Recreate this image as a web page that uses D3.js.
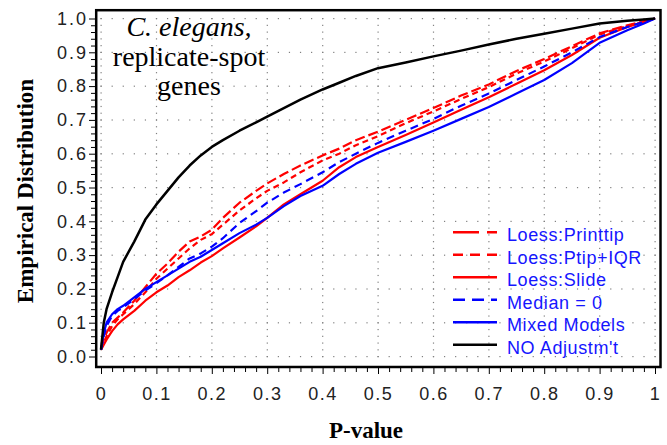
<!DOCTYPE html>
<html><head><meta charset="utf-8">
<script src="https://cdn.jsdelivr.net/npm/d3@7"></script>
<style>body{margin:0;background:#fff}</style>
</head><body>
<svg id="c" width="667" height="445"></svg>
<script>
// ---- data ----
const pValues    = [0, 0.005, 0.01, 0.02, 0.03, 0.04, 0.06, 0.08, 0.1, 0.12, 0.14, 0.16, 0.18, 0.2, 0.22, 0.25, 0.28, 0.3, 0.33, 0.36, 0.4, 0.43, 0.46, 0.5, 0.55, 0.6, 0.65, 0.7, 0.75, 0.8, 0.85, 0.9, 0.95, 0.98, 1];
const loessPrinttip = [0.025, 0.05, 0.07, 0.10, 0.115, 0.13, 0.165, 0.205, 0.245, 0.275, 0.31, 0.34, 0.355, 0.375, 0.41, 0.455, 0.49, 0.512, 0.54, 0.565, 0.595, 0.615, 0.64, 0.665, 0.70, 0.735, 0.772, 0.805, 0.845, 0.88, 0.918, 0.956, 0.98, 0.992, 1];
const loessPtipIQR  = [0.02, 0.04, 0.06, 0.09, 0.11, 0.125, 0.155, 0.19, 0.23, 0.26, 0.29, 0.32, 0.345, 0.362, 0.39, 0.432, 0.468, 0.49, 0.515, 0.545, 0.58, 0.60, 0.625, 0.652, 0.69, 0.725, 0.762, 0.797, 0.837, 0.873, 0.912, 0.953, 0.978, 0.99, 1];
const loessSlide    = [0.02, 0.035, 0.05, 0.075, 0.095, 0.11, 0.135, 0.165, 0.19, 0.21, 0.235, 0.255, 0.278, 0.297, 0.32, 0.352, 0.385, 0.41, 0.45, 0.48, 0.52, 0.56, 0.59, 0.62, 0.655, 0.692, 0.73, 0.767, 0.807, 0.847, 0.892, 0.943, 0.975, 0.99, 1];
const medianZero    = [0.02, 0.06, 0.09, 0.12, 0.135, 0.145, 0.17, 0.195, 0.217, 0.24, 0.265, 0.29, 0.305, 0.325, 0.35, 0.395, 0.43, 0.455, 0.485, 0.51, 0.545, 0.575, 0.60, 0.632, 0.668, 0.703, 0.742, 0.778, 0.818, 0.858, 0.90, 0.945, 0.975, 0.99, 1];
const mixedModels   = [0.02, 0.07, 0.10, 0.125, 0.14, 0.15, 0.175, 0.20, 0.22, 0.24, 0.26, 0.28, 0.295, 0.315, 0.335, 0.365, 0.39, 0.41, 0.445, 0.475, 0.505, 0.54, 0.57, 0.603, 0.635, 0.668, 0.703, 0.738, 0.778, 0.818, 0.868, 0.928, 0.965, 0.985, 1];
const noAdjustment  = [0.02, 0.10, 0.14, 0.19, 0.235, 0.28, 0.34, 0.405, 0.45, 0.49, 0.53, 0.565, 0.595, 0.62, 0.64, 0.668, 0.693, 0.71, 0.735, 0.76, 0.79, 0.81, 0.83, 0.853, 0.87, 0.888, 0.905, 0.923, 0.94, 0.955, 0.97, 0.985, 0.993, 0.997, 1];

const seriesNames = ["Loess:Printtip", "Loess:Ptip+IQR", "Loess:Slide", "Median = 0", "Mixed Models", "NO Adjustm't"];
const xTickValues = [0, 0.1, 0.2, 0.3, 0.4, 0.5, 0.6, 0.7, 0.8, 0.9, 1];
const xTickLabels = ["0", "0.1", "0.2", "0.3", "0.4", "0.5", "0.6", "0.7", "0.8", "0.9", "1"];
const yTickValues = [0, 0.1, 0.2, 0.3, 0.4, 0.5, 0.6, 0.7, 0.8, 0.9, 1];
const yTickLabels = ["0.0", "0.1", "0.2", "0.3", "0.4", "0.5", "0.6", "0.7", "0.8", "0.9", "1.0"];
const titleLines = ["C. elegans,", "replicate-spot", "genes"];
const xTitle = "P-value";
const yTitle = "Empirical Distribution";

// ---- styles ----
const seriesValues = [loessPrinttip, loessPtipIQR, loessSlide, medianZero, mixedModels, noAdjustment];
const seriesColor = ["#ff0000", "#ff0000", "#ff0000", "#0000ff", "#0000ff", "#000000"];
const plotDash = ["10,4", "6,4", null, "8,5", null, null];
const legendDash = ["26,8", "10,7", null, "12,7", null, null];

const svg = d3.select("#c");
const x = d3.scaleLinear().domain([0, 1]).range([101, 655]);
const y = d3.scaleLinear().domain([0, 1]).range([356.5, 18.5]);
const minor = d3.range(0, 51).map(i => i / 50);

// grid dots
const gGrid = svg.append("g").attr("fill", "#808080");
yTickValues.forEach(v => {
  gGrid.selectAll(null).data(minor).join("rect")
    .attr("x", d => x(d) - 0.5).attr("y", y(v) - 0.5).attr("width", 1.2).attr("height", 1.2);
});
xTickValues.forEach(v => {
  gGrid.selectAll(null).data(minor).join("rect")
    .attr("x", x(v) - 0.5).attr("y", d => y(d) - 0.5).attr("width", 1.2).attr("height", 1.2);
});

// curves
const line = d3.line().x((d, i) => x(pValues[i])).y(d => y(d));
seriesValues.forEach((vals, k) => {
  svg.append("path").datum(vals)
    .attr("d", line)
    .attr("fill", "none")
    .attr("stroke", seriesColor[k])
    .attr("stroke-width", k === 5 ? 2.5 : 2.2)
    .attr("stroke-dasharray", plotDash[k])
    .attr("stroke-linejoin", "round");
});

// frame
svg.append("rect").attr("x", 96.2).attr("y", 10.2).attr("width", 564.3).attr("height", 356.8)
  .attr("fill", "none").attr("stroke", "#000").attr("stroke-width", 2.5);

const tickFont = "'Liberation Sans', Arial, sans-serif";
// x axis
const minorX = minor.filter(d => Math.abs(d * 10 - Math.round(d * 10)) > 1e-6);
svg.append("g").attr("transform", "translate(0,368)")
  .call(d3.axisBottom(x).tickValues(minorX).tickSize(4).tickFormat(""))
  .call(g => g.select(".domain").remove());
svg.append("g").attr("transform", "translate(0,368)")
  .call(d3.axisBottom(x).tickValues(xTickValues).tickSize(6).tickPadding(13).tickFormat((d, i) => xTickLabels[i]))
  .call(g => g.select(".domain").remove())
  .call(g => g.selectAll("text").attr("font-size", 18).attr("font-family", tickFont).attr("fill", "#222").attr("letter-spacing", 1.5));

// y axis
svg.append("g").attr("transform", "translate(95,0)")
  .call(d3.axisLeft(y).tickValues(minorX).tickSize(4).tickFormat(""))
  .call(g => g.select(".domain").remove());
svg.append("g").attr("transform", "translate(95,0)")
  .call(d3.axisLeft(y).tickValues(yTickValues).tickSize(6).tickPadding(1).tickFormat((d, i) => yTickLabels[i]))
  .call(g => g.select(".domain").remove())
  .call(g => g.selectAll("text").attr("font-size", 18).attr("font-family", tickFont).attr("fill", "#222").attr("letter-spacing", 2));

// axis titles
svg.append("text").attr("x", 366).attr("y", 438).attr("text-anchor", "middle")
  .attr("font-family", "'Liberation Serif', 'Times New Roman', serif").attr("font-weight", "bold").attr("font-size", 23)
  .text(xTitle);
svg.append("text").attr("transform", "translate(33,191) rotate(-90)").attr("text-anchor", "middle")
  .attr("font-family", "'Liberation Serif', 'Times New Roman', serif").attr("font-weight", "bold").attr("font-size", 23)
  .text(yTitle);

// in-plot title
const tt = svg.append("text").attr("text-anchor", "middle")
  .attr("font-family", "'Liberation Serif', 'Times New Roman', serif").attr("font-size", 28).attr("fill", "#000");
titleLines.forEach((t, i) => {
  tt.append("tspan").attr("x", 189).attr("y", 36 + i * 29.5)
    .attr("font-style", i === 0 ? "italic" : "normal").text(t);
});

// legend
const lg = svg.append("g");
seriesNames.forEach((name, k) => {
  const yy = 232.3 + k * 22.5;
  lg.append("line").attr("x1", 453).attr("x2", 497).attr("y1", yy).attr("y2", yy)
    .attr("stroke", seriesColor[k]).attr("stroke-width", 2.6).attr("stroke-dasharray", legendDash[k]);
  lg.append("text").attr("x", 507).attr("y", yy + 9)
    .attr("font-family", tickFont).attr("font-size", 18).attr("fill", "#1515ff").attr("letter-spacing", 0.6)
    .text(name);
});
</script>
</body></html>
